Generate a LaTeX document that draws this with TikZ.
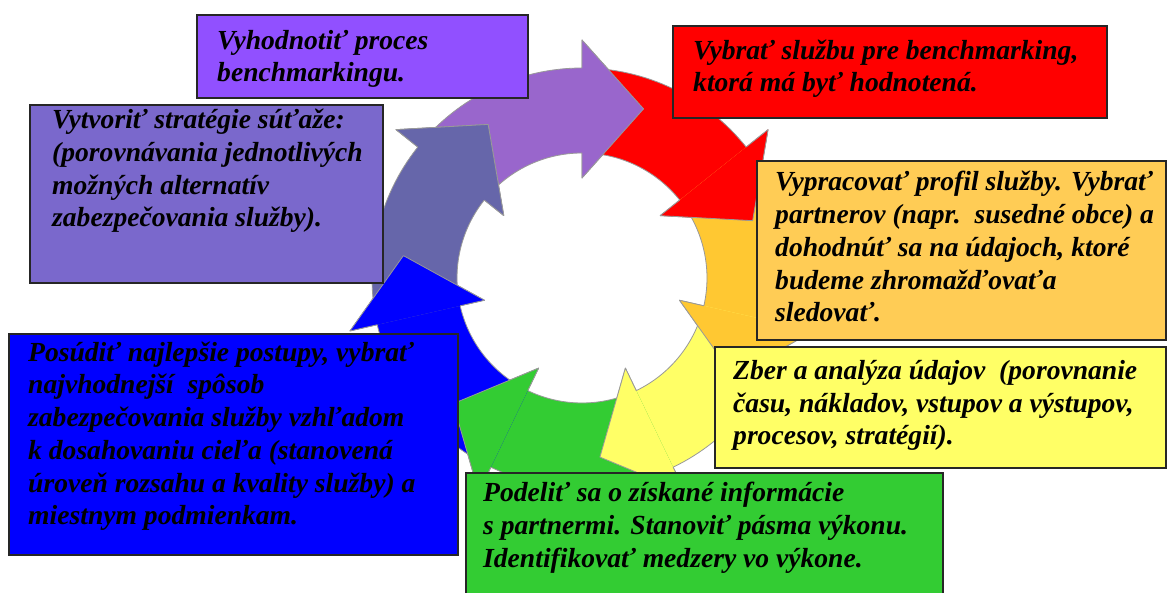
\documentclass[tikz,border=0pt]{standalone}
\usepackage{fontspec}
\setmainfont{Liberation Serif}
\definecolor{cPurB}{RGB}{145,80,255}
\definecolor{cPurA}{RGB}{153,102,204}
\definecolor{cRed}{RGB}{255,0,0}
\definecolor{cSlaB}{RGB}{122,104,204}
\definecolor{cSlaA}{RGB}{102,102,170}
\definecolor{cOrgB}{RGB}{255,204,85}
\definecolor{cOrgA}{RGB}{255,200,50}
\definecolor{cYel}{RGB}{255,255,102}
\definecolor{cGrn}{RGB}{51,204,51}
\definecolor{cBlu}{RGB}{0,0,255}
\tikzset{
  box/.style={draw=black!85, line width=1.5pt, anchor=north west, inner sep=0pt, outer sep=0pt},
  lbl/.style={anchor=base west, inner sep=0pt, align=left, text=black,
    font=\fontsize{27.6}{32.8}\selectfont\bfseries\itshape},
  ringedge/.style={draw=black!40, line width=0.8pt, line join=round},
}
\begin{document}
\begin{tikzpicture}[x=1pt,y=-1pt]
\useasboundingbox (0,0) rectangle (1168,593);
\clip (0,0) rectangle (1168,593);
\fill[white] (0,0) rectangle (1168,593);
% ring of arrows
\begin{scope}[shift={(582,278)}]
\foreach \T/\c in {70/cPurA, 18.571/cRed, -32.857/cOrgA, -84.286/cYel, -135.714/cGrn, -187.143/cBlu, -238.571/cSlaA}{
  \pgfmathsetmacro\Aa{\T+71.43}
  \pgfmathsetmacro\Ab{\T+20}
  \path[fill=\c, ringedge] (\Aa:210pt) arc[start angle=\Aa, end angle=\Ab, radius=210pt]
    -- (\Ab:238pt) -- (\T:180pt) -- (\Ab:100pt) -- (\Ab:125pt)
    arc[start angle=\Ab, end angle=\Aa, radius=125pt];
}
\foreach \T/\c in {70/cPurA, 18.571/cRed, -32.857/cOrgA, -84.286/cYel, -135.714/cGrn, -187.143/cBlu, -238.571/cSlaA}{
  \pgfmathsetmacro\Ab{\T+20}
  \path[fill=\c, ringedge] (\Ab:125pt) -- (\Ab:100pt) -- (\T:180pt) -- (\Ab:238pt) -- (\Ab:210pt);
}
\end{scope}
% boxes
\node[box, fill=cPurB, minimum width=331pt, minimum height=83pt] (b1) at (197,15) {};
\node[box, fill=cRed, minimum width=434pt, minimum height=92pt] (b2) at (673,26) {};
\node[box, fill=cSlaB, minimum width=353pt, minimum height=178pt] (b3) at (30,105) {};
\node[box, fill=cOrgB, minimum width=409pt, minimum height=179pt] (b4) at (757,161) {};
\node[box, fill=cYel, minimum width=451pt, minimum height=121pt] (b5) at (715,347) {};
\node[box, fill=cGrn, minimum width=477pt, minimum height=130pt] (b6) at (466,473) {};
\node[box, fill=cBlu, minimum width=449pt, minimum height=221pt] (b7) at (9,334) {};
% texts (anchored at the baseline of their last line)
\node[lbl] (t1) at (217,82) {Vyhodnotiť proces\\benchmarkingu.};
\node[lbl] (t2) at (693,92) {Vybrať službu pre benchmarking,\\ktorá má byť hodnotená.};
\node[lbl] (t3) at (52,227) {Vytvoriť stratégie súťaže:\\(porovnávania jednotlivých\\možných alternatív\\zabezpečovania služby).};
\node[lbl] (t4) at (775,322) {Vypracovať profil služby. Vybrať\\partnerov (napr.\ \ susedné obce) a\\dohodnúť sa na údajoch, ktoré\\budeme zhromažďovaťa\\sledovať.};
\node[lbl] (t5) at (733,445) {Zber a analýza údajov\ \ (porovnanie\\času, nákladov, vstupov a výstupov,\\procesov, stratégií).};
\node[lbl] (t6) at (483,567) {Podeliť sa o získané informácie\\s partnermi. Stanoviť pásma výkonu.\\Identifikovať medzery vo výkone.};
\node[lbl] (t7) at (28,525) {Posúdiť najlepšie postupy, vybrať\\najvhodnejší\ \ spôsob\\zabezpečovania služby vzhľadom\\k dosahovaniu cieľa (stanovená\\úroveň rozsahu a kvality služby) a\\miestnym podmienkam.};
\end{tikzpicture}
\end{document}
